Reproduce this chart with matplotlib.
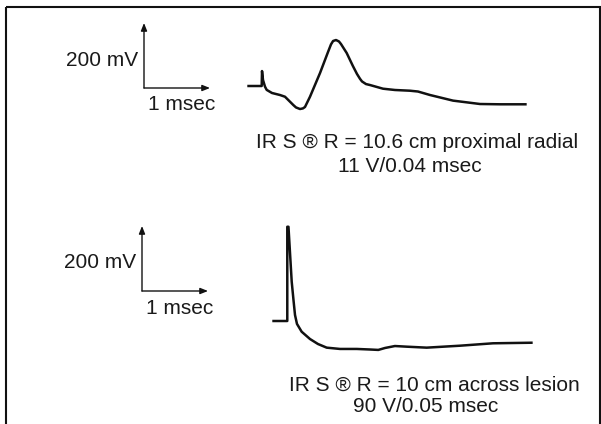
import matplotlib.pyplot as plt
from matplotlib.patches import Rectangle

plt.rcParams["font.family"] = ["Liberation Sans", "DejaVu Sans"]

# calibration bars
bar_time = 1.0    # msec
bar_volt = 200.0  # mV
bar_labels = ["1 msec", "200 mV"]

# proximal radial stimulation (msec, mV), baseline = 0
t_prox = [0.0, 0.218, 0.223, 0.238, 0.268, 0.294, 0.374, 0.495, 0.571, 0.697,
          0.738, 0.798, 0.842, 0.874, 0.95, 1.102, 1.223, 1.268, 1.3, 1.344,
          1.389, 1.42, 1.506, 1.6, 1.662, 1.708, 1.738, 1.798, 1.859, 2.056,
          2.238, 2.465, 2.586, 2.768, 3.117, 3.526, 3.83, 4.233]
v_prox = [0, 0, 46, 18.5, -2, -12, -21.5, -27.7, -33, -58.5,
          -66, -70.8, -69, -64.6, -33, 40, 104.6, 128, 138.5, 141.5,
          137, 129, 101.5, 61.5, 37, 22, 14, 6, 3, -8.3,
          -12.3, -14.5, -17, -27.7, -45, -55.4, -56.3, -56.3]

# stimulation across the lesion
t_les = [0.0, 0.227, 0.227, 0.245, 0.294, 0.321, 0.344, 0.374, 0.445, 0.571,
         0.692, 0.824, 1.026, 1.279, 1.48, 1.606, 1.708, 1.858, 2.036, 2.339,
         2.844, 3.344, 3.945]
v_les = [0, 0, 290, 290, 121, 64.6, 18.5, -9, -33, -55.4,
         -70.8, -82, -86, -86, -87.7, -89, -83, -77, -79, -82,
         -76, -68.6, -66.8]

captions_prox = ["IR S \u00ae R = 10.6 cm proximal radial", "11 V/0.04 msec"]
captions_les = ["IR S \u00ae R = 10 cm across lesion", "90 V/0.05 msec"]

W, H = 601, 424
PX_MS = 66.0     # pixels per msec
PX_MV = 0.325    # pixels per mV
FS = 15

fig = plt.figure(figsize=(W / 100, H / 100), dpi=100)

# pixel frame for the border and captions
frame = fig.add_axes([0, 0, 1, 1])
frame.set_xlim(0, W)
frame.set_ylim(H, 0)
frame.axis("off")
frame.add_patch(Rectangle((6, 7), 594, 430, fill=False, lw=1.5,
                          edgecolor="#111111", clip_on=False))


def trace_axes(x0, y0):
    """axes in msec/mV whose origin sits at pixel (x0, y0)"""
    ax = fig.add_axes([0, 0, 1, 1])
    ax.set_xlim(-x0 / PX_MS, (W - x0) / PX_MS)
    ax.set_ylim((y0 - H) / PX_MV, y0 / PX_MV)
    ax.axis("off")
    ax.patch.set_alpha(0)
    return ax


def scale_bar(ax, cx, cy):
    """calibration arrows with their corner at pixel (cx, cy)"""
    x0, x1 = ax.get_xlim()
    y0, y1 = ax.get_ylim()
    t = x0 + cx / W * (x1 - x0)
    v = y1 - cy / H * (y1 - y0)
    style = dict(arrowstyle="-|>,head_length=0.45,head_width=0.18",
                 lw=1.0, color="#111111", shrinkA=0, shrinkB=0)
    ax.annotate("", xy=(t + bar_time, v), xytext=(t, v), arrowprops=style)
    ax.annotate("", xy=(t, v + bar_volt), xytext=(t, v), arrowprops=style)


panels = [
    (t_prox, v_prox, (247.3, 86), (144, 88), captions_prox,
     [(417, 142.7), (410, 166.7)]),
    (t_les, v_les, (272.3, 321), (142, 291), captions_les,
     [(434, 385), (426, 406.7)]),
]

for t, v, origin, corner, caps, cap_pos in panels:
    ax = trace_axes(*origin)
    ax.plot(t, v, color="#111111", lw=1.8, solid_joinstyle="round",
            solid_capstyle="butt")
    scale_bar(ax, *corner)
    frame.text(corner[0] + 4, corner[1] + 17, bar_labels[0], fontsize=FS,
               ha="left", va="center", color="#1a1a1a")
    frame.text(corner[0] - 6, corner[1] - 28, bar_labels[1], fontsize=FS,
               ha="right", va="center", color="#1a1a1a")
    for s, (x, y) in zip(caps, cap_pos):
        frame.text(x, y, s, fontsize=FS, ha="center", va="center",
                   color="#1a1a1a")

fig.savefig("out.png", dpi=100)
